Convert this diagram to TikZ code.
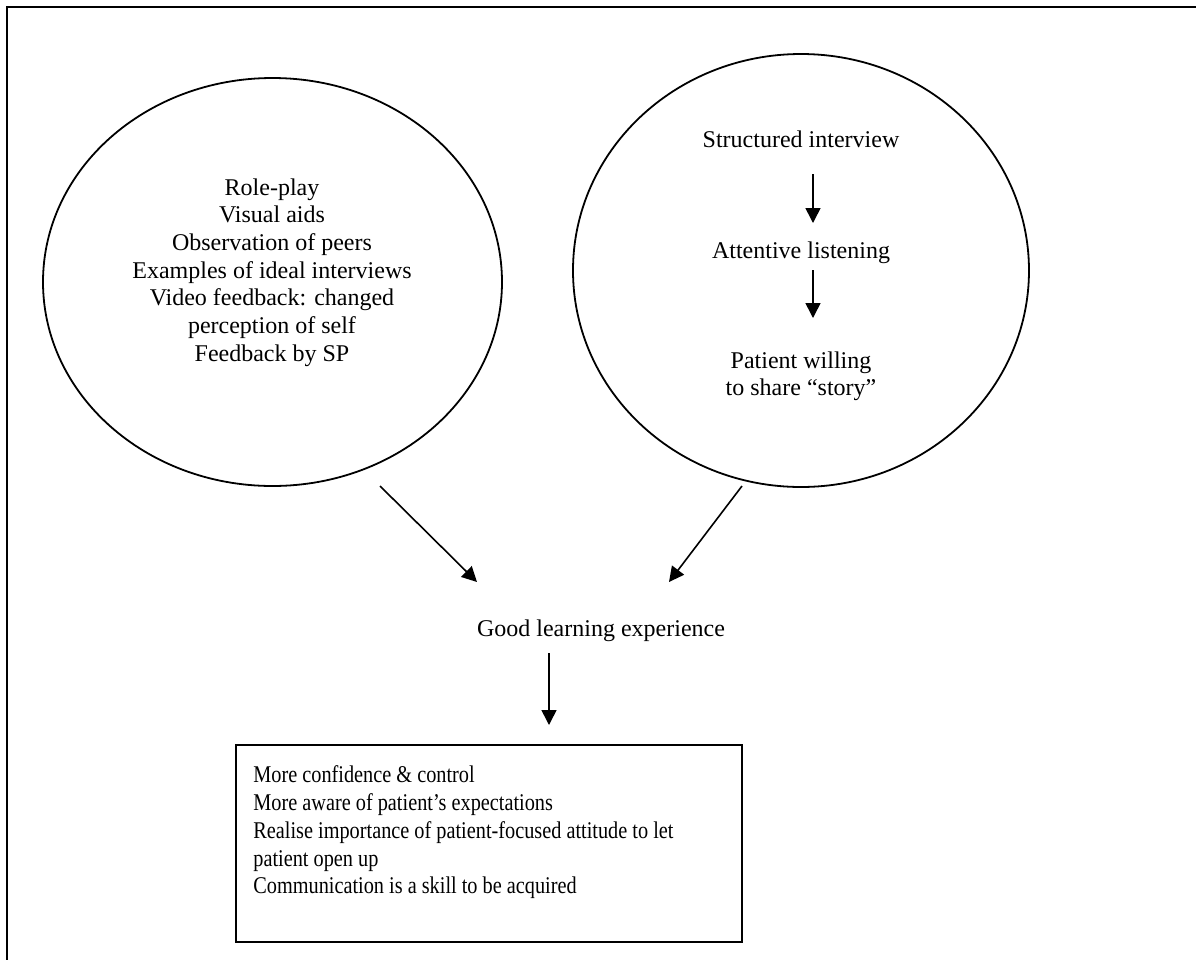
\documentclass[tikz,border=0pt]{standalone}
\usepackage{fontspec}
\setmainfont{Liberation Serif}
\newfontfamily\boxfont{Liberation Serif}[FakeStretch=0.845]
\usetikzlibrary{shapes.geometric,arrows.meta}
\begin{document}
\begin{tikzpicture}[x=0.5pt,y=-0.5pt,
  font=\fontsize{12}{13.85}\selectfont,
  txt/.style={inner sep=0pt, align=center},
  oval/.style={ellipse, draw, line width=0.9pt, inner sep=0pt},
  arr/.style={-{Triangle[length=7.5pt,width=7.5pt]}, line width=0.8pt}]
\useasboundingbox (0,0) rectangle (1196,960);
% outer frame (only top and left visible)
\draw[line width=1.1pt] (7,960) -- (7,7) -- (1196,7);
% left ellipse
\node[oval, minimum width=229.5pt, minimum height=204pt] (le) at (272.5,282) {};
\node[txt] (lt) at (272,272.5) {Role-play\\Visual aids\\Observation of peers\\Examples of ideal interviews\\Video feedback: changed\\perception of self\\Feedback by SP};
% right ellipse
\node[oval, minimum width=228pt, minimum height=216.5pt] (re) at (801,270.5) {};
\node[txt, anchor=base] (si) at (801,147) {Structured interview};
\node[txt, anchor=base] (al) at (801,258) {Attentive listening};
\node[txt] (pw) at (801,376.4) {Patient willing\\to share “story”};
% centre text
\node[txt, anchor=base] (gl) at (601,636) {Good learning experience};
% outcome box
\node[draw, line width=1pt, minimum width=253pt, minimum height=98.5pt, inner sep=0pt] (ob) at (489,843.5) {};
\node[inner sep=0pt, align=left, anchor=north west,
  font=\boxfont\fontsize{12}{13.85}\selectfont] (ot) at (253,765.6) {More confidence \& control\\More aware of patient’s expectations\\Realise importance of patient-focused attitude to let\\patient open up\\Communication is a skill to be acquired};
% arrow end points
\coordinate (a1s) at (813,174);
\coordinate (a1e) at (813,223);
\coordinate (a2s) at (813,270);
\coordinate (a2e) at (813,318);
\coordinate (d1s) at (380,486);
\coordinate (d1e) at (477,582);
\coordinate (d2s) at (742,486);
\coordinate (d2e) at (669,582);
\coordinate (d3s) at (549,653);
\coordinate (d3e) at (549,725);
\draw[arr] (a1s) -- (a1e);
\draw[arr] (a2s) -- (a2e);
\draw[arr] (d1s) -- (d1e);
\draw[arr] (d2s) -- (d2e);
\draw[arr] (d3s) -- (d3e);
\end{tikzpicture}
\end{document}
